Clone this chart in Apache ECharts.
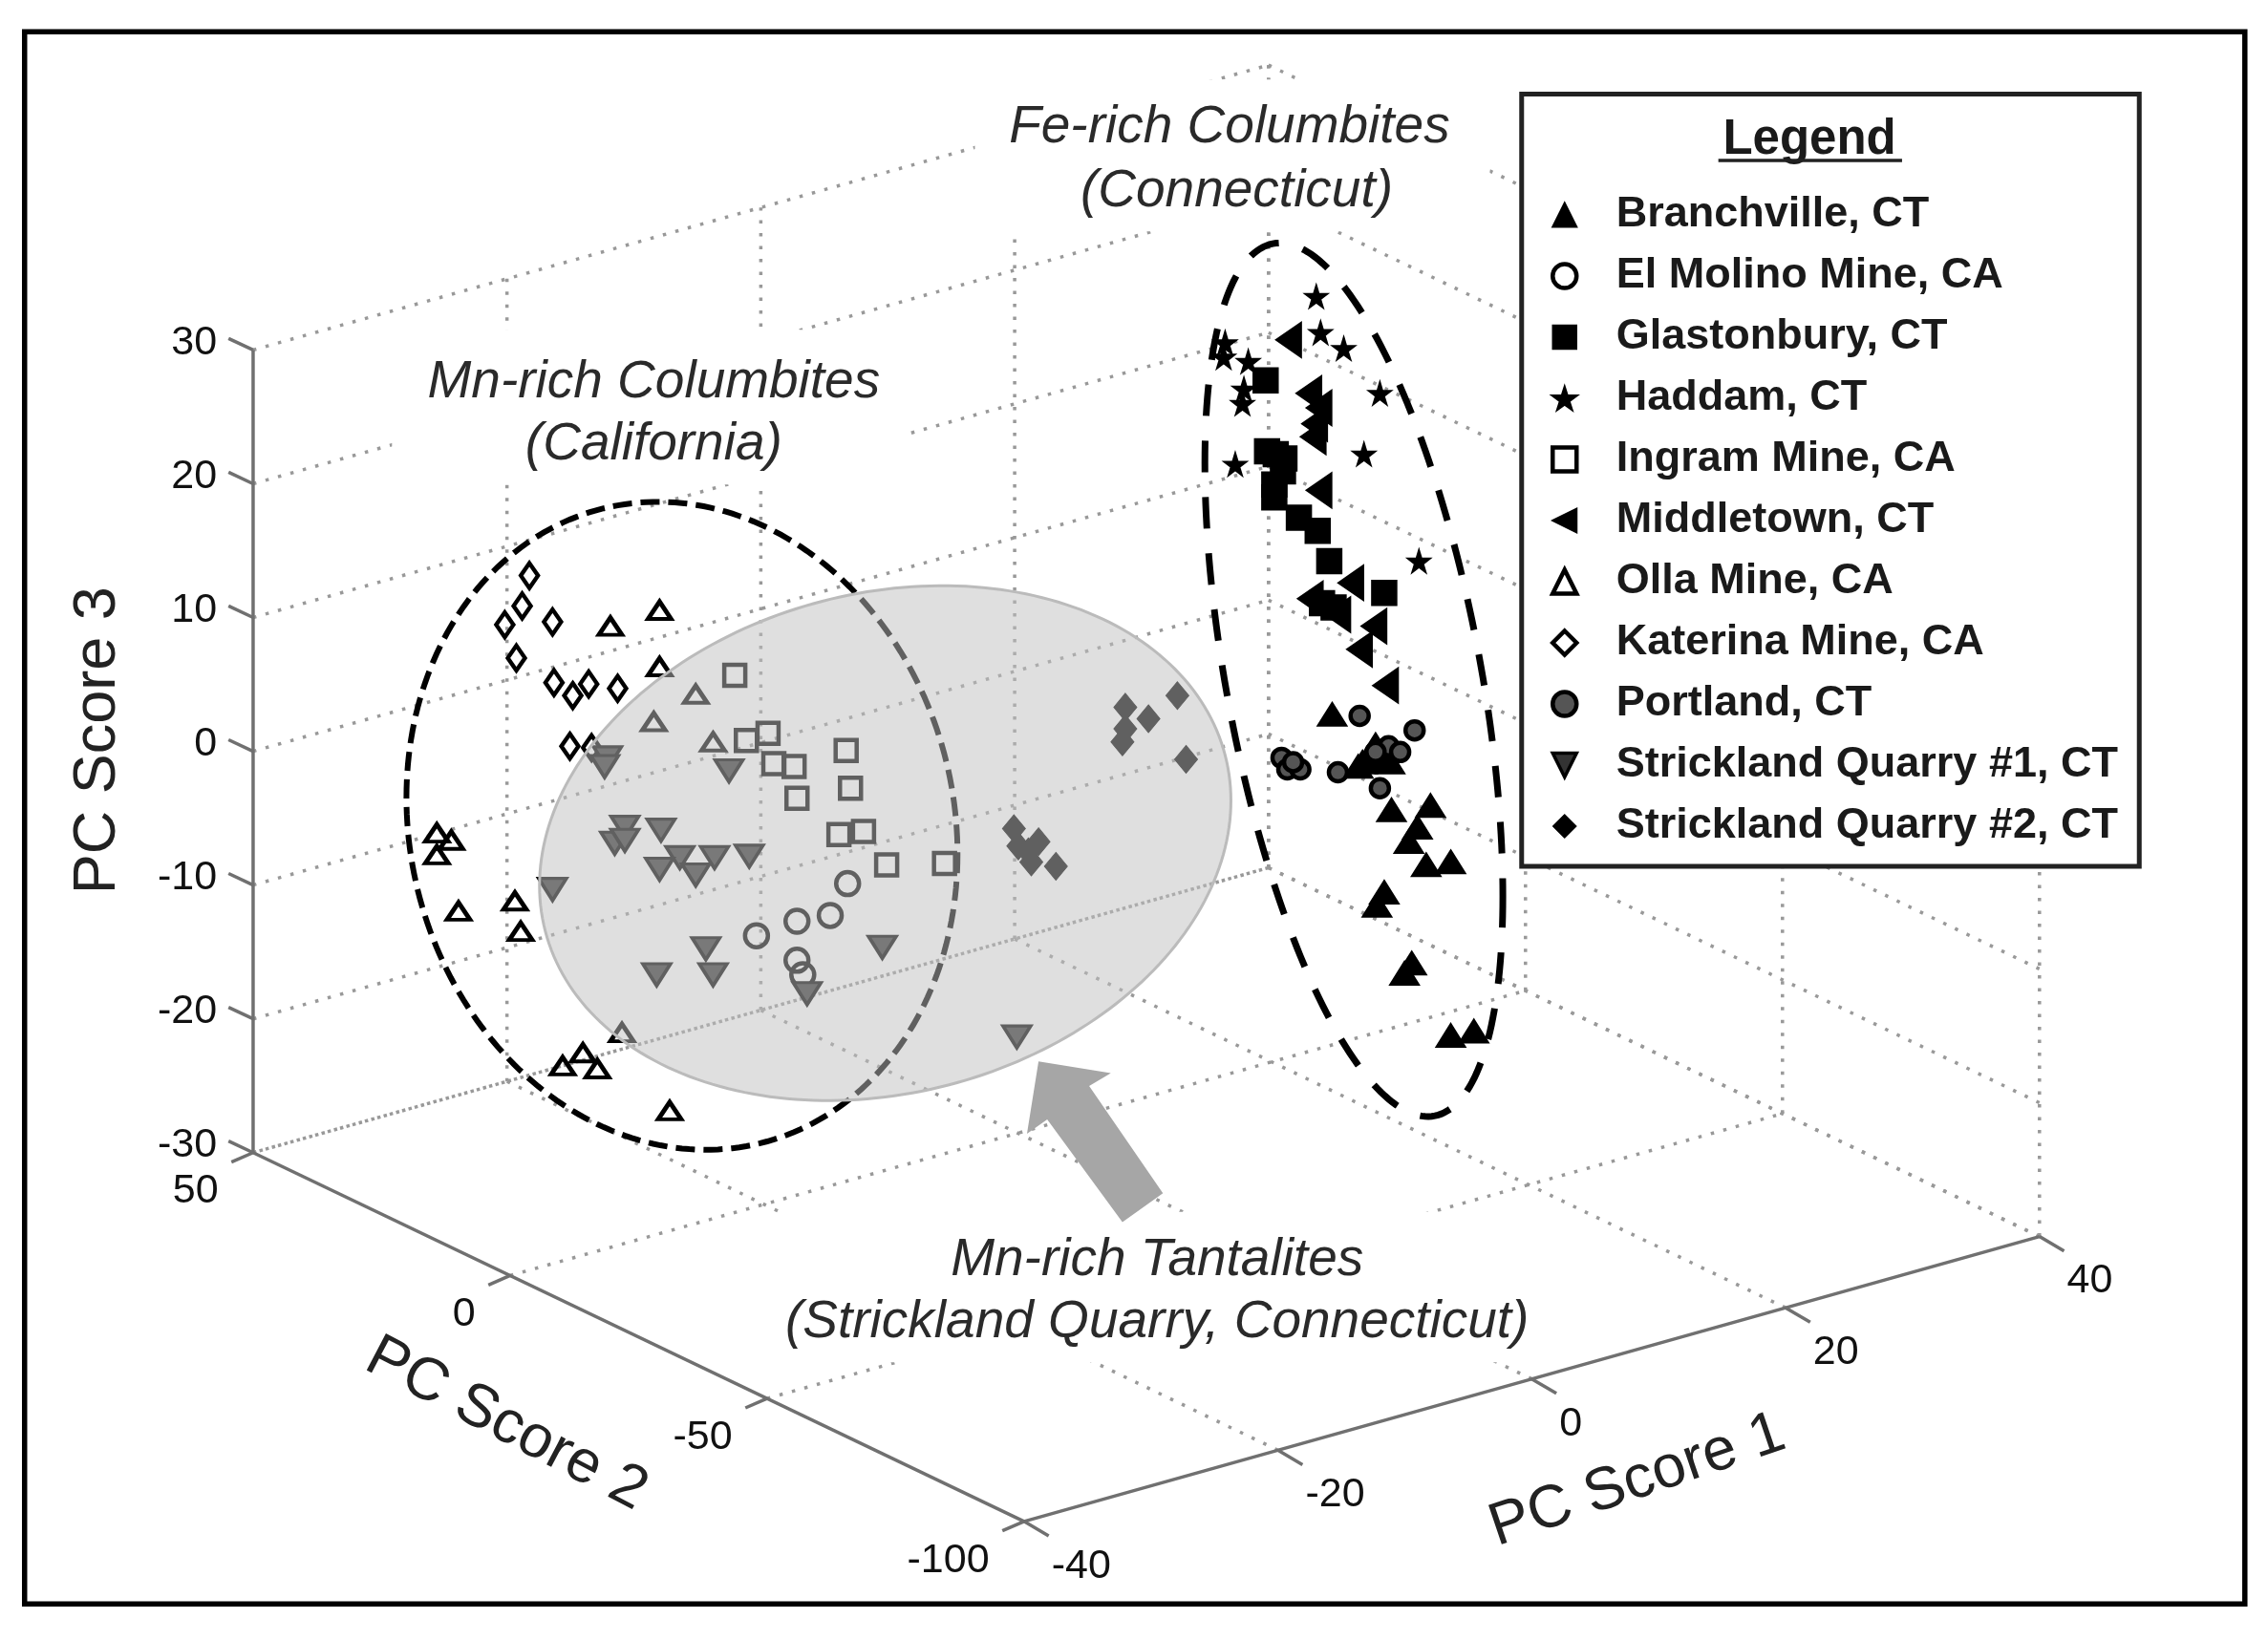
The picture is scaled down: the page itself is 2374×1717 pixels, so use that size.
<!DOCTYPE html>
<html><head><meta charset="utf-8">
<style>html,body{margin:0;padding:0;background:#fff}#c{width:2374px;height:1717px;filter:blur(0.7px)}</style>
<script src="https://cdn.jsdelivr.net/npm/echarts@6/dist/echarts.min.js"></script>
</head><body><div id="c"></div>
<script>
// View plane of the picture (units of the 1568 x 1134 view)
const viewW = 1568, viewH = 1134;

// Axis ticks
const pc1Ticks = [-40, -20, 0, 20, 40];
const pc2Ticks = [50, 0, -50, -100];
const pc3Ticks = [30, 20, 10, 0, -10, -20, -30];

// Projected sample positions
const branchville = [[921,494],[939,530],[942,527],[952,522],[958,526],[961,527],[951,515],[962,560],[989,557],[980,572],[974,582],[986,598],[1003,596],[957,617],[952,626],[976,666],[971,673],[1003,716],[1019,713]];
const elMolino = [[586,611],[574,633],[551,637],[523,647],[551,664],[555,674]];
const glastonbury = [[875,263],[876,312],[882,314],[888,317],[887,326],[881,335],[881,344],[898,358],[911,367],[919,388],[957,410],[922,420],[914,417]];
const haddam = [[910,205],[913,230],[929,241],[954,272],[943,314],[981,388],[854,321],[847,237],[846,247],[863,250],[860,269],[859,279]];
const ingram = [[508,467],[531,507],[516,512],[535,528],[549,530],[585,519],[588,545],[551,552],[580,577],[597,575],[613,598],[653,597]];
const middletown = [[891,235],[905,272],[912,282],[909,293],[908,302],[912,339],[934,403],[906,414],[925,425],[950,433],[940,449],[958,474]];
const olla = [[456,422],[422,433],[456,461],[481,480],[452,499],[493,513],[356,623],[360,644],[430,714],[403,728],[389,737],[413,739],[463,768],[302,576],[312,581],[302,591],[317,630]];
const katerina = [[366,398],[361,419],[349,432],[382,430],[357,455],[383,472],[396,481],[407,473],[427,476],[394,516],[409,517]];
const portland = [[940,495],[978,505],[886,524],[890,532],[899,532],[894,527],[925,534],[960,516],[968,520],[954,545],[951,520]];
const strickland1 = [[420,524],[418,530],[504,533],[432,572],[457,574],[425,583],[432,581],[470,593],[494,593],[518,592],[456,601],[481,605],[382,615],[488,656],[610,655],[454,674],[493,674],[558,687],[703,717]];
const strickland2 = [[778,489],[794,497],[814,481],[778,504],[776,513],[820,525],[701,573],[718,582],[704,585],[711,589],[713,596],[730,599]];

// Region outlines: centre x, centre y, half width, half height, skew in degrees
const mnColumbiteRegion = [471.5, 571, 190.5, 224, 5];
const feColumbiteRegion = [936, 470, 103, 302, 29.7];
const tantaliteRegion = [612, 583, 239, 178, -9.5];
const arrowOutline = [[718,734],[768,742],[753,751],[804,825],[776,845],[724,774],[710,784]];

// White patches behind the captions, and boxes
const captionPatches = [[271,228,627,335],[674,55,1030,160],[540,838,1070,942]];
const frameBox = [17,22,1552,1109];
const legendBox = [1052,65,1479,599];

const captions = [
  ['Mn-rich Columbites',452,264.5],['(California)',452,307.5],
  ['Fe-rich Columbites',850,88.5],['(Connecticut)',855,132.5],
  ['Mn-rich Tantalites',800,871.5],['(Strickland Quarry, Connecticut)',800,914.5]
];
const axisTitles = [
  ['PC Score 3',68,512,90],['PC Score 2',350,985,-27.7],['PC Score 1',1132,1024,18.7]
];

// Oblique projection of the PC axes onto the view plane
function project(p1,p2,p3){
  return [708+(p1+40)*702/80+(p2+100)*(-533/150),
          1052+(p1+40)*(-197/80)+(p2+100)*(-255/150)+(p3+30)*(-555/60)];
}

const gridSegs=[];
pc1Ticks.filter(v=>v!==-40).forEach(v=>{
  gridSegs.push([project(v,-100,-30),project(v,50,-30)]);
  gridSegs.push([project(v,50,-30),project(v,50,30)]);
});
pc2Ticks.filter(v=>v!==-100).forEach(v=>gridSegs.push([project(-40,v,-30),project(40,v,-30)]));
pc2Ticks.forEach(v=>gridSegs.push([project(40,v,-30),project(40,v,30)]));
pc3Ticks.forEach(v=>{
  gridSegs.push(v===-30?[project(40,50,v),project(-40,50,v)]:[project(-40,50,v),project(40,50,v)]);
  gridSegs.push([project(40,50,v),project(40,-100,v)]);
});

const axisSegs=[[project(-40,50,-30),project(-40,50,30)],[project(-40,50,-30),project(-40,-100,-30)],[project(-40,-100,-30),project(40,-100,-30)]];
pc3Ticks.forEach(v=>{const a=project(-40,50,v);axisSegs.push([a,[a[0]-17,a[1]-8]]);});
pc2Ticks.forEach(v=>{const a=project(-40,v,-30);axisSegs.push([a,[a[0]-15,a[1]+6.5]]);});
pc1Ticks.forEach(v=>{const a=project(v,-100,-30);axisSegs.push([a,[a[0]+17,a[1]+10]]);});

const tickTexts=[];
pc3Ticks.forEach(v=>{const a=project(-40,50,v);tickTexts.push([String(v),a[0]-25,a[1]-5,'right']);});
pc2Ticks.forEach(v=>{const a=project(-40,v,-30);tickTexts.push([String(v),a[0]-24,a[1]+27,'right']);});
pc1Ticks.forEach(v=>{const a=project(v,-100,-30);tickTexts.push([String(v),a[0]+19,a[1]+31,'left']);});

const SANS='"Liberation Sans",Arial,sans-serif';
const paths={
  up:'path://M5,0 L10,10 L0,10 Z',
  down:'path://M0,0 L10,0 L5,10 Z',
  left:'path://M0,5 L10,0 L10,10 Z',
  diamond:'path://M5,0 L10,5 L5,10 L0,5 Z',
  square:'path://M0,0 L10,0 L10,10 L0,10 Z',
  star:'path://M50,0 L61,35 L98,35 L68,57 L79,91 L50,70 L21,91 L32,57 L2,35 L39,35 Z'
};

function scatter(name,data,symbol,size,fill,bc,bw){
  return {type:'scatter',name,data,symbol,symbolSize:size,z:6,clip:false,silent:true,
    itemStyle:{color:fill,borderColor:bc,borderWidth:bw,opacity:1},emphasis:{disabled:true}};
}
function custom(z,data,renderItem){
  return {type:'custom',z,silent:true,clip:false,data,renderItem,emphasis:{disabled:true},tooltip:{show:false}};
}
function segSeries(segs,z,style){
  return custom(z,segs.map(s=>s[0]),(p,api)=>{
    const s=segs[p.dataIndex];
    return {type:'polyline',shape:{points:[api.coord(s[0]),api.coord(s[1])]},style:Object.assign({fill:null},style)};
  });
}
function ellipsePts(api,r){
  const pts=[],d=r[4]*Math.PI/180;
  for(let i=0;i<240;i++){const t=i/240*2*Math.PI;
    pts.push(api.coord([r[0]+r[2]*Math.cos(t),r[1]+r[3]*Math.sin(t+d)]));}
  return pts;
}
function ellipseSeries(r,z,style){
  return custom(z,[[r[0],r[1]]],(p,api)=>({type:'polygon',shape:{points:ellipsePts(api,r)},style}));
}
function rectSeries(boxes,z,style){
  return custom(z,boxes.map(b=>[b[0],b[1]]),(p,api)=>{
    const b=boxes[p.dataIndex],a=api.coord([b[0],b[1]]),c=api.coord([b[2],b[3]]);
    return {type:'rect',shape:{x:a[0],y:a[1],width:c[0]-a[0],height:c[1]-a[1]},style};
  });
}
function textSeries(rows,z,font,fill,alignOf,rotOf){
  return custom(z,rows.map(r=>[r[1],r[2]]),(p,api)=>{
    const r=rows[p.dataIndex],a=api.coord([r[1],r[2]]);
    return {type:'text',x:a[0],y:a[1],rotation:rotOf?rotOf(r)*Math.PI/180:0,
      style:{text:r[0],font,fill,align:alignOf?alignOf(r):'center',verticalAlign:'middle'}};
  });
}

const names=['Branchville, CT','El Molino Mine, CA','Glastonbury, CT','Haddam, CT','Ingram Mine, CA','Middletown, CT','Olla Mine, CA','Katerina Mine, CA','Portland, CT','Strickland Quarry #1, CT','Strickland Quarry #2, CT'];

const option={
  animation:false,backgroundColor:'#fff',
  grid:{left:0,top:0,right:0,bottom:0,containLabel:false},
  xAxis:{type:'value',min:0,max:viewW,show:false},
  yAxis:{type:'value',min:0,max:viewH,inverse:true,show:false},
  legend:{show:true,data:names,orient:'vertical',left:1618,top:195,z:30,selectedMode:false,
    itemWidth:30,itemHeight:25,itemGap:14,align:'left',
    itemStyle:{borderWidth:'inherit'},
    textStyle:{fontFamily:SANS,fontWeight:'bold',fontSize:45,color:'#1a1a1a',lineHeight:44,padding:[0,0,6,34]}},
  series:[
    segSeries(gridSegs,1,{stroke:'#999',lineWidth:3.5,lineDash:[3.5,10]}),
    rectSeries(captionPatches,2,{fill:'#fff'}),
    segSeries(axisSegs,3,{stroke:'#707070',lineWidth:3.5}),
    textSeries(tickTexts,4,'43px '+SANS,'#111',r=>r[3]),
    textSeries(axisTitles,4,'63px '+SANS,'#222',null,r=>r[3]),
    textSeries(captions,4,'italic 55px '+SANS,'#2a2a2a'),
    ellipseSeries(mnColumbiteRegion,5,{fill:null,stroke:'#000',lineWidth:6,lineDash:[20,9]}),
    ellipseSeries(feColumbiteRegion,5,{fill:null,stroke:'#000',lineWidth:7,lineDash:[33,26]}),
    scatter(names[0],branchville,paths.up,[30,24],'#000','#000',2),
    scatter(names[1],elMolino,'circle',24,'transparent','#000',4.5),
    scatter(names[2],glastonbury,paths.square,26,'#000','#000',1.5),
    scatter(names[3],haddam,paths.star,23,'#000','#000',2),
    scatter(names[4],ingram,paths.square,22,'transparent','#000',4.5),
    scatter(names[5],middletown,paths.left,[26,36],'#000','#000',2),
    scatter(names[6],olla,paths.up,[24,18],'transparent','#000',4.5),
    scatter(names[7],katerina,paths.diamond,[18,26],'transparent','#000',4.5),
    scatter(names[8],portland,'circle',19,'#555','#000',4.5),
    scatter(names[9],strickland1,paths.down,[29,23],'#333','#000',3.5),
    scatter(names[10],strickland2,paths.diamond,[24,29],'#000','#000',1),
    ellipseSeries(tantaliteRegion,7,{fill:'rgba(192,192,192,0.5)',stroke:'#bbb',lineWidth:3}),
    custom(8,[arrowOutline[0]],(p,api)=>({type:'polygon',shape:{points:arrowOutline.map(q=>api.coord(q))},style:{fill:'#a6a6a6'}})),
    rectSeries([legendBox],9,{fill:'#fff',stroke:'#222',lineWidth:5}),
    textSeries([['Legend',1251,97]],10,'bold 51px '+SANS,'#1a1a1a'),
    segSeries([[[1188,111],[1315,111]]],10,{stroke:'#222',lineWidth:3.5}),
    rectSeries([frameBox],11,{fill:null,stroke:'#000',lineWidth:5.5})
  ]
};
const chart=echarts.init(document.getElementById('c'),null,{renderer:'canvas',width:2374,height:1717});
chart.setOption(option);
</script></body></html>
